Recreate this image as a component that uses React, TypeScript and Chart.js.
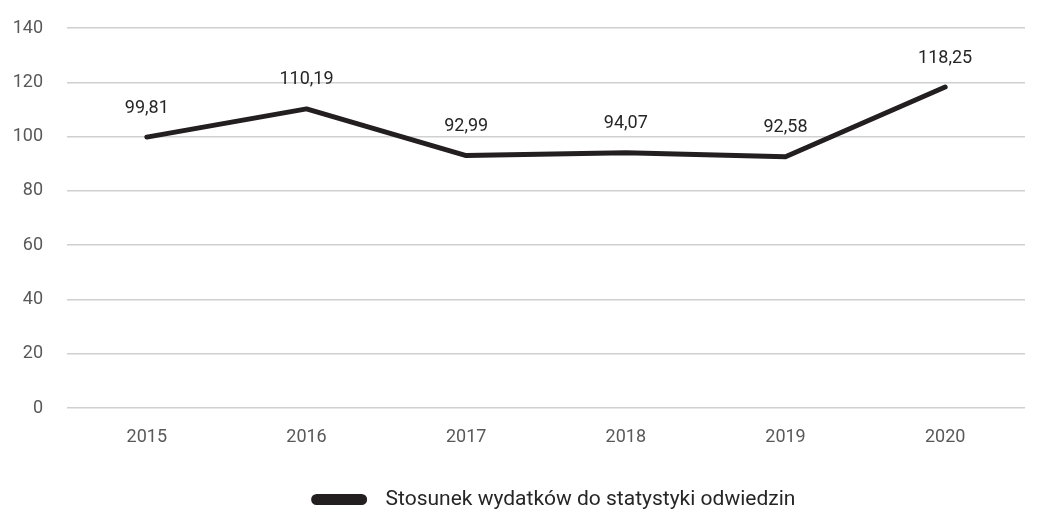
import React, { useEffect, useRef } from "react";
import { Chart, registerables } from "chart.js";

Chart.register(...registerables);

const categories: string[] = ["2015", "2016", "2017", "2018", "2019", "2020"];
const ratioValues: number[] = [99.81, 110.19, 92.99, 94.07, 92.58, 118.25];
const seriesLabel = "Stosunek wydatków do statystyki odwiedzin";
const yMin = 0;
const yMax = 140;
const yStep = 20;

const FONT = "Roboto";
const LINE_COLOR = "#231f20";
const TEXT_COLOR = "#595959";

const fmt = (v: number) => v.toFixed(2).replace(".", ",");

const valueLabels = {
  id: "valueLabels",
  afterDatasetsDraw(chart: any) {
    const ctx = chart.ctx;
    const meta = chart.getDatasetMeta(0);
    ctx.save();
    ctx.font = `18px ${FONT}`;
    ctx.fillStyle = "#262626";
    ctx.textAlign = "center";
    ctx.textBaseline = "middle";
    meta.data.forEach((pt: any, i: number) => {
      ctx.fillText(fmt(ratioValues[i]), pt.x, pt.y - 29);
    });
    ctx.restore();
  },
};

const legendShift = {
  id: "legendShift",
  afterLayout(chart: any) {
    const lg = chart.legend;
    if (lg) {
      lg.left += 42;
      lg.right += 42;
      lg.top += 8;
      lg.bottom += 8;
    }
  },
};

export default function App() {
  const ref = useRef<HTMLCanvasElement | null>(null);
  useEffect(() => {
    document.body.style.margin = "0";
    if (!ref.current) return;
    const chart = new Chart(ref.current, {
      type: "line",
      data: {
        labels: categories,
        datasets: [
          {
            label: "  " + seriesLabel,
            data: ratioValues,
            borderColor: LINE_COLOR,
            backgroundColor: LINE_COLOR,
            borderWidth: 5,
            pointRadius: 0,
            borderJoinStyle: "round",
            borderCapStyle: "round",
            tension: 0,
          },
        ],
      },
      options: {
        animation: false,
        responsive: false,
        maintainAspectRatio: false,
        layout: { padding: { top: 28, left: 0, right: 13, bottom: 1 } },
        plugins: {
          tooltip: { enabled: false },
          legend: {
            position: "bottom",
            labels: {
              boxWidth: 51,
              boxHeight: 6,
              useBorderRadius: true,
              borderRadius: 3,
              color: "#262626",
              font: { family: FONT, size: 21 },
              padding: 4,
            },
          },
        },
        scales: {
          x: {
            offset: true,
            grid: { display: false, drawTicks: false },
            border: { display: false },
            ticks: { color: TEXT_COLOR, font: { family: FONT, size: 18 }, padding: 19 },
            afterFit: (s: any) => {
              s.height = 69;
            },
          },
          y: {
            min: yMin,
            max: yMax,
            grid: { color: "#d0d0d0", lineWidth: 1.5, drawTicks: false },
            border: { display: false },
            ticks: { stepSize: yStep, color: TEXT_COLOR, font: { family: FONT, size: 18 }, padding: 24 },
            afterFit: (s: any) => {
              s.width = 67;
              s.paddingTop = 0;
              s.paddingBottom = 0;
            },
          },
        },
      },
      plugins: [valueLabels, legendShift],
    });
    return () => chart.destroy();
  }, []);
  return (
    <div style={{ position: "absolute", left: 0, top: 0, width: 1038, height: 513 }}>
      <canvas ref={ref} width={1038} height={513} />
    </div>
  );
}
